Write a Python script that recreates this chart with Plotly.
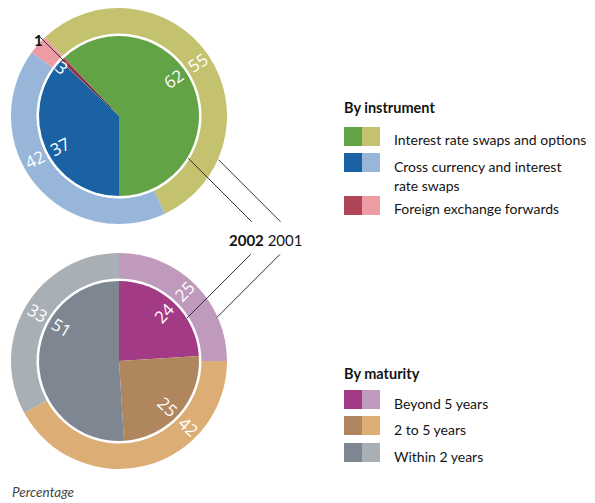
import math
import plotly.graph_objects as go

# page is shown with an 8px body margin, so the figure is offset by 8px
OFF = 8
W, H = 595 - OFF, 503 - OFF

# ---------------- data ----------------
instrument_labels = ["Interest rate swaps and options",
                     "Cross currency and interest<br>rate swaps",
                     "Foreign exchange forwards"]
instrument_2002 = [62, 37, 1]
instrument_2001 = [55, 42, 3]
instrument_dark = ["#62A346", "#1A62A3", "#B0455A"]
instrument_light = ["#C4C26F", "#97B6DA", "#ED9CA3"]

maturity_labels = ["Beyond 5 years", "2 to 5 years", "Within 2 years"]
maturity_2002 = [24, 25, 51]
maturity_2001 = [25, 42, 33]
maturity_dark = ["#A33A85", "#B0865E", "#7E8791"]
maturity_light = ["#C09ABC", "#DDAD76", "#A8AFB5"]

years = ["2002", "2001"]

# ---------------- geometry (page pixels) ----------------
R_IN, R_HOLE, R_OUT = 80, 82.5, 108
TOP_C = (119, 116)
BOT_C = (119, 361)
NUM_FONT = dict(family="Open Sans, DejaVu Sans, sans-serif", size=17, color="white")
TXT_FAMILY = "Lato, Roboto, Liberation Sans, sans-serif"
TXT_SIZE = 14
TXT_COLOR = "#141414"


def px_x(x):
    return min(1.0, max(0.0, (x - OFF) / W))


def px_y(y):
    return min(1.0, max(0.0, 1 - (y - OFF) / H))


def domain(c, r):
    cx, cy = c
    return dict(x=[px_x(cx - r), px_x(cx + r)], y=[px_y(cy + r), px_y(cy - r)])


def arcs(values, order, rotation, direction):
    """slice intervals (degrees clockwise from 12 o'clock); rotation = where the first slice starts"""
    total = float(sum(values))
    out, cum = {}, 0.0
    for i in order:
        span = 360.0 * values[i] / total
        if direction == "clockwise":
            out[i] = (rotation + cum, rotation + cum + span)
        else:
            out[i] = (rotation - cum - span, rotation - cum)
        cum += span
    return out


def plotly_rotation(values, order, rotation, direction):
    # plotly's counterclockwise pies place the first slice clockwise of `rotation`
    if direction == "clockwise":
        return rotation
    r = rotation - 360.0 * values[order[0]] / float(sum(values))
    r = (r + 180) % 360 - 180
    return r


def overlap_mid(a, b):
    best = None
    for s in (-360, 0, 360):
        lo = max(a[0], b[0] + s)
        hi = min(a[1], b[1] + s)
        if hi > lo and (best is None or hi - lo > best[1] - best[0]):
            best = (lo, hi)
    if best is None:
        return (a[0] + a[1]) / 2
    return (best[0] + best[1]) / 2


def polar(c, d, theta):
    t = math.radians(theta)
    return c[0] + d * math.sin(t), c[1] - d * math.cos(t)


def radial_angle(theta):
    a = (theta - 90) % 360
    if a > 180:
        a -= 360
    if abs(a) > 90:
        a = a + 180 if a < 0 else a - 180
    return a


fig = go.Figure()
annotations = []
shapes = []


def add_ring_pair(c, v_in, v_out, dark, light, order, rot_in, rot_out, direction, own_mid=()):
    ordered = list(order)
    fig.add_trace(go.Pie(
        values=[v_out[i] for i in ordered], marker=dict(colors=[light[i] for i in ordered]),
        hole=R_HOLE / R_OUT, sort=False, direction=direction,
        rotation=plotly_rotation(v_out, ordered, rot_out, direction),
        textinfo="none", hoverinfo="skip", showlegend=False, domain=domain(c, R_OUT)))
    fig.add_trace(go.Pie(
        values=[v_in[i] for i in ordered], marker=dict(colors=[dark[i] for i in ordered]),
        sort=False, direction=direction,
        rotation=plotly_rotation(v_in, ordered, rot_in, direction),
        textinfo="none", hoverinfo="skip", showlegend=False, domain=domain(c, R_IN)))
    a_in = arcs(v_in, ordered, rot_in, direction)
    a_out = arcs(v_out, ordered, rot_out, direction)
    for i in ordered:
        if i in own_mid:
            continue
        th = overlap_mid(a_in[i], a_out[i])
        for d, val in ((R_IN * 0.83, v_in[i]), ((R_HOLE + R_OUT) / 2, v_out[i])):
            x, y = polar(c, d, th)
            annotations.append(dict(x=px_x(x), y=px_y(y), xref="paper", yref="paper",
                                    text=str(val), showarrow=False, font=NUM_FONT,
                                    textangle=radial_angle(th), xanchor="center", yanchor="middle"))
    return a_in, a_out


# top: instrument (counter-clockwise, outer ring aligned on end of first slice)
top_order = [0, 2, 1]
rot_in_top = 180
rot_out_top = rot_in_top - 360 * instrument_2002[0] / sum(instrument_2002) \
    + 360 * instrument_2001[0] / sum(instrument_2001)
a_in, a_out = add_ring_pair(TOP_C, instrument_2002, instrument_2001, instrument_dark,
                            instrument_light, top_order, rot_in_top, rot_out_top,
                            "counterclockwise", own_mid=(2,))
# small slice: outer label inside ring, inner label outside with leader
th_o = sum(a_out[2]) / 2
x, y = polar(TOP_C, (R_HOLE + R_OUT) / 2, th_o)
annotations.append(dict(x=px_x(x), y=px_y(y), xref="paper", yref="paper", text=str(instrument_2001[2]),
                        showarrow=False, font=NUM_FONT, textangle=radial_angle(th_o)))
th_i = sum(a_in[2]) / 2
x0, y0 = polar(TOP_C, 12, th_i)
x1, y1 = polar(TOP_C, 114, th_i)
shapes.append(dict(type="line", xref="paper", yref="paper", x0=px_x(x0), y0=px_y(y0),
                   x1=px_x(x1), y1=px_y(y1), line=dict(color="#333333", width=1)))
x, y = polar(TOP_C, 123, th_i)
annotations.append(dict(x=px_x(x), y=px_y(y), xref="paper", yref="paper", text="<b>%d</b>" % instrument_2002[2],
                        showarrow=False, font=dict(family=TXT_FAMILY, size=15, color="#111111")))

# bottom: maturity (clockwise from 12 o'clock)
add_ring_pair(BOT_C, maturity_2002, maturity_2001, maturity_dark, maturity_light,
              [0, 1, 2], 0, 0, "clockwise")

# year leader lines
for (xa, ya, xb, yb) in [(251.7, 221.7, 188.3, 158.3), (280.5, 221.7, 218.5, 159.7),
                         (250.7, 254.3, 187.0, 318.0), (280.0, 254.3, 217.0, 317.3)]:
    shapes.append(dict(type="line", xref="paper", yref="paper", x0=px_x(xa), y0=px_y(ya),
                       x1=px_x(xb), y1=px_y(yb), line=dict(color="#333333", width=1)))
annotations.append(dict(x=px_x(265.5), y=px_y(240), xref="paper", yref="paper",
                        text="<b>%s</b> %s" % (years[0], years[1]), showarrow=False,
                        font=dict(family=TXT_FAMILY, size=15, color=TXT_COLOR),
                        xanchor="center", yanchor="middle"))


# legends
def legend(title, title_y, labels, dark, light, tops):
    annotations.append(dict(x=px_x(342), y=px_y(title_y), xref="paper", yref="paper",
                            text="<b>%s</b>" % title, showarrow=False, xanchor="left", yanchor="middle",
                            font=dict(family=TXT_FAMILY, size=14.5, color=TXT_COLOR)))
    for lab, dk, lt, t in zip(labels, dark, light, tops):
        shapes.append(dict(type="rect", xref="paper", yref="paper", x0=px_x(344), x1=px_x(362),
                           y0=px_y(t + 19), y1=px_y(t), fillcolor=dk, line=dict(width=0)))
        shapes.append(dict(type="rect", xref="paper", yref="paper", x0=px_x(362), x1=px_x(380),
                           y0=px_y(t + 19), y1=px_y(t), fillcolor=lt, line=dict(width=0)))
        for k, line in enumerate(lab.split("<br>")):
            annotations.append(dict(x=px_x(392), y=px_y(t + 13 + 19 * k), xref="paper", yref="paper",
                                    text=line, showarrow=False, xanchor="left", yanchor="middle",
                                    font=dict(family=TXT_FAMILY, size=TXT_SIZE, color=TXT_COLOR)))


legend("By instrument", 108, instrument_labels, instrument_dark, instrument_light, [127, 153, 196])
legend("By maturity", 373, maturity_labels, maturity_dark, maturity_light, [390, 416, 443])

annotations.append(dict(x=px_x(10), y=px_y(492), xref="paper", yref="paper", text="<i>Percentage</i>",
                        showarrow=False, xanchor="left", yanchor="middle",
                        font=dict(family=TXT_FAMILY, size=13.5, color="#444444")))

fig.update_layout(width=W, height=H, autosize=False, margin=dict(l=0, r=0, t=0, b=0),
                  paper_bgcolor="white", plot_bgcolor="white",
                  annotations=annotations, shapes=shapes, showlegend=False)
fig.write_html("out.html")
